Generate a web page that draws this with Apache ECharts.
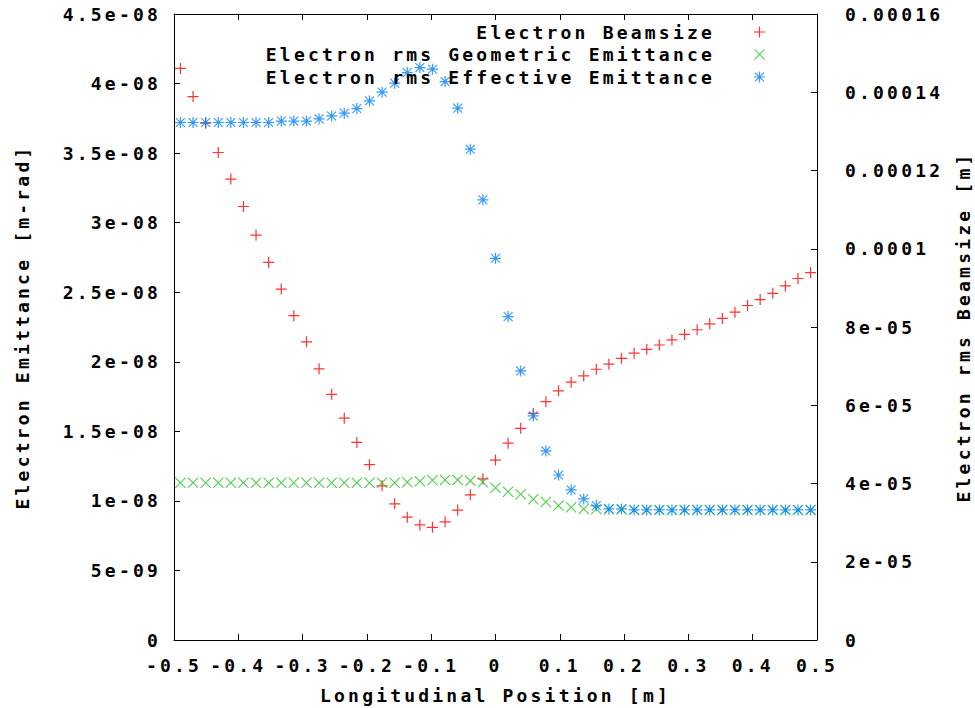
<!DOCTYPE html>
<html>
<head>
<meta charset="utf-8">
<script src="https://cdn.jsdelivr.net/npm/echarts@6/dist/echarts.min.js"></script>
<style>
html,body{margin:0;padding:0;background:#ffffff;}
#chart{width:975px;height:708px;letter-spacing:3.2px;}
</style>
</head>
<body>
<div id="chart"></div>
<script>
// Longitudinal position [m]
const positions = [
  -0.49, -0.4704, -0.4508, -0.4312, -0.4116, -0.392, -0.3724, -0.3528, -0.3332, -0.3136,
  -0.294, -0.2744, -0.2548, -0.2352, -0.2156, -0.196, -0.1764, -0.1568, -0.1372, -0.1176,
  -0.098, -0.0784, -0.0588, -0.0392, -0.0196, 0, 0.0196, 0.0392, 0.0588, 0.0784,
  0.098, 0.1176, 0.1372, 0.1568, 0.1764, 0.196, 0.2156, 0.2352, 0.2548, 0.2744,
  0.294, 0.3136, 0.3332, 0.3528, 0.3724, 0.392, 0.4116, 0.4312, 0.4508, 0.4704, 0.49
];
// Electron rms beamsize [m] (right axis)
const beamsize = [
  1.461e-4, 1.389e-4, 1.321e-4, 1.246e-4, 1.178e-4, 1.108e-4, 1.035e-4, 9.65e-5, 8.97e-5, 8.29e-5,
  7.62e-5, 6.93e-5, 6.28e-5, 5.67e-5, 5.05e-5, 4.48e-5, 3.94e-5, 3.48e-5, 3.14e-5, 2.94e-5,
  2.88e-5, 3.02e-5, 3.32e-5, 3.71e-5, 4.12e-5, 4.60e-5, 5.03e-5, 5.41e-5, 5.79e-5, 6.09e-5,
  6.37e-5, 6.59e-5, 6.75e-5, 6.92e-5, 7.05e-5, 7.20e-5, 7.33e-5, 7.43e-5, 7.54e-5, 7.67e-5,
  7.81e-5, 7.93e-5, 8.08e-5, 8.22e-5, 8.38e-5, 8.55e-5, 8.70e-5, 8.86e-5, 9.05e-5, 9.24e-5, 9.39e-5
];
// Electron rms geometric emittance [m-rad] (left axis)
const geomEmittance = [
  1.131e-8, 1.131e-8, 1.131e-8, 1.131e-8, 1.131e-8, 1.131e-8, 1.131e-8, 1.131e-8, 1.131e-8, 1.131e-8,
  1.131e-8, 1.131e-8, 1.131e-8, 1.131e-8, 1.131e-8, 1.131e-8, 1.131e-8, 1.131e-8, 1.134e-8, 1.141e-8,
  1.148e-8, 1.151e-8, 1.151e-8, 1.144e-8, 1.134e-8, 1.095e-8, 1.066e-8, 1.048e-8, 1.012e-8, 9.92e-9,
  9.66e-9, 9.54e-9, 9.42e-9, 9.42e-9, 9.40e-9, 9.38e-9, 9.35e-9, 9.35e-9, 9.35e-9, 9.35e-9,
  9.35e-9, 9.35e-9, 9.35e-9, 9.35e-9, 9.35e-9, 9.35e-9, 9.35e-9, 9.35e-9, 9.35e-9, 9.35e-9, 9.35e-9
];
// Electron rms effective emittance [m-rad] (left axis)
const effEmittance = [
  3.72e-8, 3.72e-8, 3.72e-8, 3.72e-8, 3.72e-8, 3.72e-8, 3.72e-8, 3.72e-8, 3.73e-8, 3.73e-8,
  3.73e-8, 3.746e-8, 3.767e-8, 3.787e-8, 3.82e-8, 3.875e-8, 3.938e-8, 4.003e-8, 4.079e-8, 4.115e-8,
  4.103e-8, 4.014e-8, 3.823e-8, 3.528e-8, 3.164e-8, 2.744e-8, 2.325e-8, 1.934e-8, 1.611e-8, 1.359e-8,
  1.186e-8, 1.079e-8, 1.014e-8, 9.66e-9, 9.42e-9, 9.42e-9, 9.35e-9, 9.35e-9, 9.35e-9, 9.35e-9,
  9.35e-9, 9.35e-9, 9.35e-9, 9.35e-9, 9.35e-9, 9.35e-9, 9.35e-9, 9.35e-9, 9.35e-9, 9.35e-9, 9.35e-9
];
const seriesNames = ['Electron Beamsize', 'Electron rms Geometric Emittance', 'Electron rms Effective Emittance'];
const xTickLabels = ['-0.5', '-0.4', '-0.3', '-0.2', '-0.1', '0', '0.1', '0.2', '0.3', '0.4', '0.5'];
const yLeftTickLabels = ['0', '5e-09', '1e-08', '1.5e-08', '2e-08', '2.5e-08', '3e-08', '3.5e-08', '4e-08', '4.5e-08'];
const yRightTickLabels = ['0', '2e-05', '4e-05', '6e-05', '8e-05', '0.0001', '0.00012', '0.00014', '0.00016'];
const xAxisName = 'Longitudinal Position [m]';
const yLeftName = 'Electron Emittance [m-rad]';
const yRightName = 'Electron rms Beamsize [m]';

const FONT = 'DejaVu Sans Mono';
const FS = 18;
const PLUS = 'path://M0,4.45H4.45V0H5.55V4.45H10V5.55H5.55V10H4.45V5.55H0Z';
const CROSS = 'path://M0,0.7L0.7,0L5,4.3L9.3,0L10,0.7L5.7,5L10,9.3L9.3,10L5,5.7L0.7,10L0,9.3L4.3,5Z';
const STAR = 'path://M0,4.45H4.45V0H5.55V4.45H10V5.55H5.55V10H4.45V5.55H0Z M0.6,1.3L1.3,0.6L5,4.3L8.7,0.6L9.4,1.3L5.7,5L9.4,8.7L8.7,9.4L5,5.7L1.3,9.4L0.6,8.7L4.3,5Z';

const textBase = { fontFamily: FONT, fontSize: FS, fontWeight: 'bold', color: '#000' };
const axisLine = { show: true, onZero: false, lineStyle: { color: '#000', width: 1 } };
const tick = { show: true, inside: true, length: 6, lineStyle: { color: '#000', width: 1 } };

const chart = echarts.init(document.getElementById('chart'), null, { renderer: 'svg' });
chart.setOption({
  animation: false,
  backgroundColor: '#ffffff',
  grid: { left: 174, right: 158, top: 14, bottom: 68, containLabel: false, outerBoundsMode: 'none' },
  legend: {
    data: seriesNames,
    orient: 'vertical',
    right: 210,
    top: 21,
    align: 'right',
    itemWidth: 79,
    itemHeight: 11,
    itemGap: 0.5,
    padding: 0,
    selectedMode: false,
    textStyle: Object.assign({}, textBase, { lineHeight: 22 })
  },
  xAxis: [
    {
      type: 'value', position: 'bottom', min: -0.5, max: 0.5, interval: 0.1,
      axisLine: axisLine, axisTick: tick, splitLine: { show: false },
      axisLabel: Object.assign({}, textBase, {
        margin: 16,
        formatter: v => xTickLabels[Math.round((v + 0.5) / 0.1)]
      }),
      name: xAxisName, nameLocation: 'middle', nameGap: 46,
      nameTextStyle: textBase
    },
    {
      type: 'value', position: 'top', min: -0.5, max: 0.5, interval: 0.1,
      axisLine: axisLine, axisTick: tick, splitLine: { show: false },
      axisLabel: { show: false }
    }
  ],
  yAxis: [
    {
      type: 'value', position: 'left', min: 0, max: 4.5e-8, interval: 5e-9,
      axisLine: axisLine, axisTick: tick, splitLine: { show: false },
      axisLabel: Object.assign({}, textBase, {
        margin: 13,
        formatter: v => yLeftTickLabels[Math.round(v / 5e-9)]
      }),
      name: yLeftName, nameLocation: 'middle', nameRotate: 90, nameGap: 143,
      nameTextStyle: textBase
    },
    {
      type: 'value', position: 'right', min: 0, max: 1.6e-4, interval: 2e-5,
      axisLine: axisLine, axisTick: tick, splitLine: { show: false },
      axisLabel: Object.assign({}, textBase, {
        margin: 28,
        formatter: v => yRightTickLabels[Math.round(v / 2e-5)]
      }),
      name: yRightName, nameLocation: 'middle', nameRotate: 90, nameGap: 137,
      nameTextStyle: textBase
    }
  ],
  series: [
    {
      name: seriesNames[0], type: 'scatter', xAxisIndex: 0, yAxisIndex: 1,
      symbol: PLUS, symbolSize: 11,
      itemStyle: { color: '#ff0000' },
      emphasis: { disabled: true },
      data: positions.map((x, i) => [x, beamsize[i]])
    },
    {
      name: seriesNames[1], type: 'scatter', xAxisIndex: 0, yAxisIndex: 0,
      symbol: CROSS, symbolSize: 11,
      itemStyle: { color: '#22c322' },
      emphasis: { disabled: true },
      data: positions.map((x, i) => [x, geomEmittance[i]])
    },
    {
      name: seriesNames[2], type: 'scatter', xAxisIndex: 0, yAxisIndex: 0,
      symbol: STAR, symbolSize: 11,
      itemStyle: { color: '#0080ff' },
      emphasis: { disabled: true },
      data: positions.map((x, i) => [x, effEmittance[i]])
    }
  ]
});
</script>
</body>
</html>
